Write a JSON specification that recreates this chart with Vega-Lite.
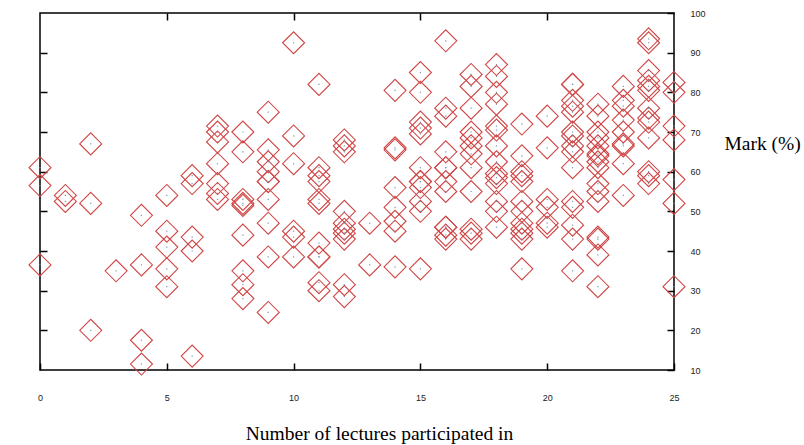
{
  "$schema": "https://vega.github.io/schema/vega-lite/v6.json",
  "width": 634,
  "height": 357,
  "autosize": {"type": "none"},
  "padding": {"left": 40, "top": 13, "right": 130, "bottom": 75},
  "background": "white",
  "config": {
    "view": {"stroke": "black", "strokeWidth": 1.5},
    "axis": {
      "domain": false,
      "grid": false,
      "tickColor": "black",
      "tickWidth": 1.5,
      "tickSize": -7,
      "labelFont": "Liberation Sans",
      "labelFontSize": 9,
      "labelColor": "#222",
      "labelFlush": false,
      "labelOverlap": false,
      "titleFont": "Liberation Serif",
      "titleFontSize": 19.5,
      "titleFontWeight": "normal",
      "titleColor": "black"
    }
  },
  "data": {
    "values": [
      {"lec": 0, "mark": 61}, {"lec": 0, "mark": 56.5}, {"lec": 0, "mark": 36.5},
      {"lec": 1, "mark": 54}, {"lec": 1, "mark": 52.5},
      {"lec": 2, "mark": 67}, {"lec": 2, "mark": 52}, {"lec": 2, "mark": 20},
      {"lec": 3, "mark": 35},
      {"lec": 4, "mark": 49}, {"lec": 4, "mark": 36.5}, {"lec": 4, "mark": 17.5}, {"lec": 4, "mark": 11.5},
      {"lec": 5, "mark": 54}, {"lec": 5, "mark": 45}, {"lec": 5, "mark": 41}, {"lec": 5, "mark": 35.5}, {"lec": 5, "mark": 31},
      {"lec": 6, "mark": 59}, {"lec": 6, "mark": 57}, {"lec": 6, "mark": 43.5}, {"lec": 6, "mark": 40}, {"lec": 6, "mark": 13.5},
      {"lec": 7, "mark": 71.5}, {"lec": 7, "mark": 70}, {"lec": 7, "mark": 67.5}, {"lec": 7, "mark": 62}, {"lec": 7, "mark": 57}, {"lec": 7, "mark": 54.5}, {"lec": 7, "mark": 53},
      {"lec": 8, "mark": 70}, {"lec": 8, "mark": 65}, {"lec": 8, "mark": 53}, {"lec": 8, "mark": 52}, {"lec": 8, "mark": 51.5}, {"lec": 8, "mark": 44}, {"lec": 8, "mark": 35}, {"lec": 8, "mark": 31.5}, {"lec": 8, "mark": 28},
      {"lec": 9, "mark": 75}, {"lec": 9, "mark": 65.5}, {"lec": 9, "mark": 62.5}, {"lec": 9, "mark": 60}, {"lec": 9, "mark": 57.5}, {"lec": 9, "mark": 57.5}, {"lec": 9, "mark": 53}, {"lec": 9, "mark": 47}, {"lec": 9, "mark": 38.5}, {"lec": 9, "mark": 24.5},
      {"lec": 10, "mark": 92.5}, {"lec": 10, "mark": 69}, {"lec": 10, "mark": 62}, {"lec": 10, "mark": 45}, {"lec": 10, "mark": 43.5}, {"lec": 10, "mark": 38.5},
      {"lec": 11, "mark": 82}, {"lec": 11, "mark": 61}, {"lec": 11, "mark": 59}, {"lec": 11, "mark": 57.5}, {"lec": 11, "mark": 53}, {"lec": 11, "mark": 52}, {"lec": 11, "mark": 42}, {"lec": 11, "mark": 38.5}, {"lec": 11, "mark": 38.5}, {"lec": 11, "mark": 32}, {"lec": 11, "mark": 30},
      {"lec": 12, "mark": 68}, {"lec": 12, "mark": 66.5}, {"lec": 12, "mark": 65}, {"lec": 12, "mark": 50}, {"lec": 12, "mark": 47}, {"lec": 12, "mark": 45.5}, {"lec": 12, "mark": 44.5}, {"lec": 12, "mark": 43}, {"lec": 12, "mark": 31.5}, {"lec": 12, "mark": 28.5},
      {"lec": 13, "mark": 47}, {"lec": 13, "mark": 36.5},
      {"lec": 14, "mark": 80.5}, {"lec": 14, "mark": 66}, {"lec": 14, "mark": 65.5}, {"lec": 14, "mark": 56}, {"lec": 14, "mark": 51}, {"lec": 14, "mark": 47.5}, {"lec": 14, "mark": 45}, {"lec": 14, "mark": 36},
      {"lec": 15, "mark": 85}, {"lec": 15, "mark": 80}, {"lec": 15, "mark": 72.5}, {"lec": 15, "mark": 71}, {"lec": 15, "mark": 69.5}, {"lec": 15, "mark": 61}, {"lec": 15, "mark": 57.5}, {"lec": 15, "mark": 57.5}, {"lec": 15, "mark": 56}, {"lec": 15, "mark": 52.5}, {"lec": 15, "mark": 50}, {"lec": 15, "mark": 35.5},
      {"lec": 16, "mark": 93}, {"lec": 16, "mark": 76}, {"lec": 16, "mark": 74}, {"lec": 16, "mark": 65}, {"lec": 16, "mark": 61}, {"lec": 16, "mark": 61}, {"lec": 16, "mark": 57.5}, {"lec": 16, "mark": 55}, {"lec": 16, "mark": 46}, {"lec": 16, "mark": 46}, {"lec": 16, "mark": 44}, {"lec": 16, "mark": 43},
      {"lec": 17, "mark": 84.5}, {"lec": 17, "mark": 81.5}, {"lec": 17, "mark": 76}, {"lec": 17, "mark": 70}, {"lec": 17, "mark": 68.5}, {"lec": 17, "mark": 66.5}, {"lec": 17, "mark": 64.5}, {"lec": 17, "mark": 61}, {"lec": 17, "mark": 55}, {"lec": 17, "mark": 45.5}, {"lec": 17, "mark": 44.5}, {"lec": 17, "mark": 43},
      {"lec": 18, "mark": 87}, {"lec": 18, "mark": 84}, {"lec": 18, "mark": 80}, {"lec": 18, "mark": 77}, {"lec": 18, "mark": 71.5}, {"lec": 18, "mark": 70.5}, {"lec": 18, "mark": 66.5}, {"lec": 18, "mark": 62.5}, {"lec": 18, "mark": 59.5}, {"lec": 18, "mark": 58.5}, {"lec": 18, "mark": 57}, {"lec": 18, "mark": 52.5}, {"lec": 18, "mark": 50}, {"lec": 18, "mark": 46},
      {"lec": 19, "mark": 72}, {"lec": 19, "mark": 64}, {"lec": 19, "mark": 60}, {"lec": 19, "mark": 59}, {"lec": 19, "mark": 57.5}, {"lec": 19, "mark": 52.5}, {"lec": 19, "mark": 50}, {"lec": 19, "mark": 47}, {"lec": 19, "mark": 45.5}, {"lec": 19, "mark": 44.5}, {"lec": 19, "mark": 43}, {"lec": 19, "mark": 35.5},
      {"lec": 20, "mark": 74}, {"lec": 20, "mark": 66}, {"lec": 20, "mark": 53}, {"lec": 20, "mark": 51}, {"lec": 20, "mark": 47}, {"lec": 20, "mark": 46},
      {"lec": 21, "mark": 82}, {"lec": 21, "mark": 82}, {"lec": 21, "mark": 78}, {"lec": 21, "mark": 76.5}, {"lec": 21, "mark": 75}, {"lec": 21, "mark": 70}, {"lec": 21, "mark": 69}, {"lec": 21, "mark": 66.5}, {"lec": 21, "mark": 65}, {"lec": 21, "mark": 61}, {"lec": 21, "mark": 52.5}, {"lec": 21, "mark": 51}, {"lec": 21, "mark": 46.5}, {"lec": 21, "mark": 43}, {"lec": 21, "mark": 35},
      {"lec": 22, "mark": 77}, {"lec": 22, "mark": 74}, {"lec": 22, "mark": 70}, {"lec": 22, "mark": 68.5}, {"lec": 22, "mark": 66.5}, {"lec": 22, "mark": 64.5}, {"lec": 22, "mark": 64}, {"lec": 22, "mark": 62.5}, {"lec": 22, "mark": 61}, {"lec": 22, "mark": 57}, {"lec": 22, "mark": 55}, {"lec": 22, "mark": 52.5}, {"lec": 22, "mark": 43.5}, {"lec": 22, "mark": 43}, {"lec": 22, "mark": 39}, {"lec": 22, "mark": 31},
      {"lec": 23, "mark": 81.5}, {"lec": 23, "mark": 78}, {"lec": 23, "mark": 76.5}, {"lec": 23, "mark": 73}, {"lec": 23, "mark": 70}, {"lec": 23, "mark": 67}, {"lec": 23, "mark": 66.5}, {"lec": 23, "mark": 62}, {"lec": 23, "mark": 54},
      {"lec": 24, "mark": 93.5}, {"lec": 24, "mark": 92.5}, {"lec": 24, "mark": 85.5}, {"lec": 24, "mark": 83}, {"lec": 24, "mark": 81.5}, {"lec": 24, "mark": 80.5}, {"lec": 24, "mark": 76}, {"lec": 24, "mark": 73.5}, {"lec": 24, "mark": 72.5}, {"lec": 24, "mark": 68.5}, {"lec": 24, "mark": 60}, {"lec": 24, "mark": 59}, {"lec": 24, "mark": 57},
      {"lec": 25, "mark": 82.5}, {"lec": 25, "mark": 80}, {"lec": 25, "mark": 71.5}, {"lec": 25, "mark": 68}, {"lec": 25, "mark": 58}, {"lec": 25, "mark": 52}, {"lec": 25, "mark": 31}
    ]
  },
  "layer": [
    {
      "mark": {"type": "point", "shape": "diamond", "size": 484, "filled": false, "strokeWidth": 1.1},
      "encoding": {
        "x": {
          "field": "lec", "type": "quantitative",
          "scale": {"domain": [0, 25], "nice": false, "zero": false},
          "axis": {
            "orient": "bottom",
            "values": [0, 5, 10, 15, 20, 25],
            "labelPadding": 34,
            "labelBaseline": "middle",
            "title": "Number of lectures participated in",
            "titleX": 339,
            "titleY": 69,
            "titleAlign": "center",
            "titleBaseline": "alphabetic"
          }
        },
        "y": {
          "field": "mark", "type": "quantitative",
          "scale": {"domain": [10, 100], "nice": false, "zero": false},
          "axis": {
            "orient": "right",
            "values": [10, 20, 30, 40, 50, 60, 70, 80, 90, 100],
            "labelPadding": 23,
            "labelAlign": "left",
            "labelBaseline": "middle",
            "title": "Mark (%)",
            "titleAngle": 0,
            "titleX": 50,
            "titleY": 130,
            "titleAlign": "left",
            "titleBaseline": "middle"
          }
        },
        "stroke": {"value": "#d04545"},
        "opacity": {"value": 1}
      }
    },
    {
      "mark": {"type": "point", "shape": "square", "size": 1.5, "filled": true, "color": "#6b8fa8", "opacity": 0.9},
      "encoding": {
        "x": {
          "field": "lec", "type": "quantitative",
          "scale": {"domain": [0, 25], "nice": false, "zero": false},
          "axis": {"orient": "top", "values": [5, 10, 15, 20], "labels": false, "title": null}
        },
        "y": {
          "field": "mark", "type": "quantitative",
          "scale": {"domain": [10, 100], "nice": false, "zero": false},
          "axis": {"orient": "left", "values": [20, 30, 40, 50, 60, 70, 80, 90], "labels": false, "title": null}
        }
      }
    }
  ],
  "resolve": {"axis": {"x": "independent", "y": "independent"}}
}
